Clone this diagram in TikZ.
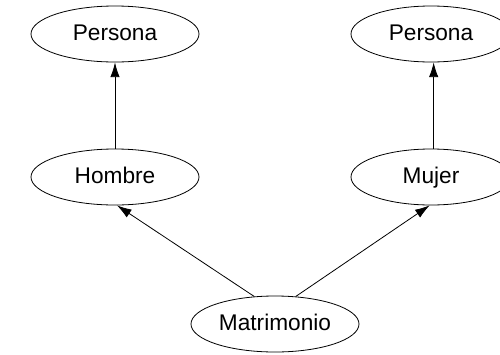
\documentclass[tikz,border=0pt]{standalone}
\usepackage{fontspec}
\setmainfont{Liberation Sans}
\usetikzlibrary{shapes.geometric,arrows.meta}
\begin{document}
\begin{tikzpicture}[x=0.75pt,y=-0.75pt,
  entity/.style={draw,ellipse,line width=0.6pt,minimum width=126pt,minimum height=42pt,inner sep=0pt,
    text height=12.5pt,text depth=3.5pt,font=\fontsize{17}{20}\selectfont},
  narrow/.style={minimum width=120pt},
  isa/.style={line width=0.6pt,-{Latex[length=11pt,width=7pt]}}]
\useasboundingbox (0,0) rectangle (500,354);
\node[entity] (p1) at (115,34) {Persona};
\node[entity,narrow] (p2) at (431,34) {Persona};
\node[entity] (h) at (115,177) {Hombre};
\node[entity,narrow] (w) at (431,177) {Mujer};
\node[entity] (m) at (275,324) {Matrimonio};
\draw[isa] (h.north) -- (p1.south);
\draw[isa] ([xshift=2pt]w.north) -- ([xshift=2pt]p2.south);
\draw[isa] (m.127) -- ([xshift=1.5pt]h.south);
\draw[isa] (m.53) -- ([xshift=-1pt]w.south);
\end{tikzpicture}
\end{document}
